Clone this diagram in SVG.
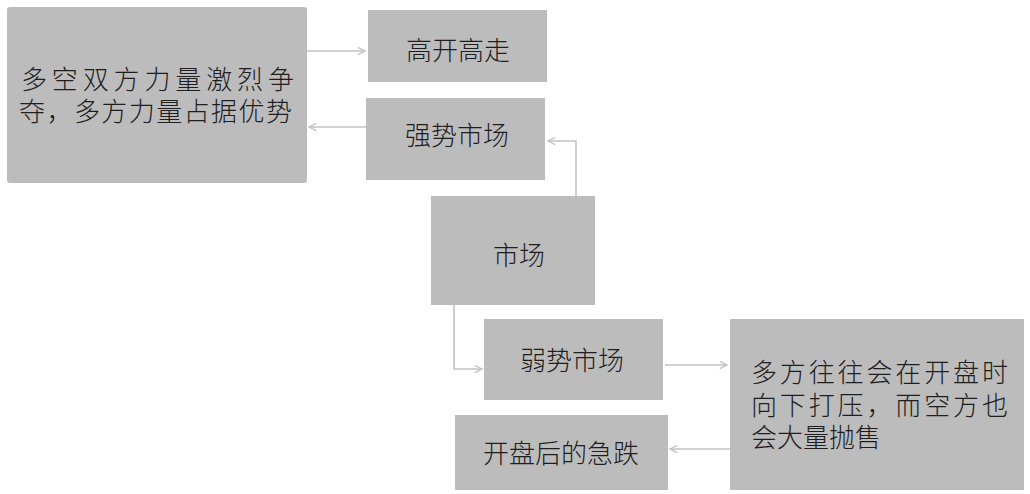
<svg xmlns="http://www.w3.org/2000/svg" width="1030" height="494" viewBox="0 0 1030 494">
<style>
.box{fill:#bdbcbd;}
.t{font-family:"Noto Sans CJK SC","Noto Sans CJK JP",sans-serif;font-size:26px;fill:#1e1e1e;font-weight:300;}
.c{fill:none;stroke:#c2c2c2;stroke-width:1.6;}
</style>
<defs>
<marker id="ah" viewBox="0 0 10 10" refX="9" refY="5" markerWidth="9" markerHeight="9" markerUnits="userSpaceOnUse" orient="auto">
<path d="M1,1 L9,5 L1,9" fill="none" stroke="#c2c2c2" stroke-width="1.4"/>
</marker>
</defs>
<rect width="1030" height="494" fill="#ffffff"/>
<g id="connectors">
<path class="c" d="M307,51 L365,51" marker-end="url(#ah)"/>
<path class="c" d="M366,127 L309,127" marker-end="url(#ah)"/>
<path class="c" d="M576,196 L576,141 L548,141" marker-end="url(#ah)"/>
<path class="c" d="M454,305 L454,369 L482,369" marker-end="url(#ah)"/>
<path class="c" d="M665,365 L727,365" marker-end="url(#ah)"/>
<path class="c" d="M730,449 L670,449" marker-end="url(#ah)"/>
</g>
<g id="node-a">
<rect class="box" x="7" y="7" width="300" height="176" rx="3"/>
<text class="t"><tspan x="21" y="89" textLength="273" lengthAdjust="spacing">多空双方力量激烈争</tspan><tspan x="19" y="121" textLength="273" lengthAdjust="spacing">夺，多方力量占据优势</tspan></text>
</g>
<g id="node-gkgz">
<rect class="box" x="368" y="10" width="179" height="72"/>
<text class="t" x="458" y="60" text-anchor="middle">高开高走</text>
</g>
<g id="node-qssc">
<rect class="box" x="366" y="98" width="179" height="82"/>
<text class="t" x="457" y="145" text-anchor="middle">强势市场</text>
</g>
<g id="node-sc">
<rect class="box" x="431" y="196" width="164" height="109"/>
<text class="t" x="519" y="265" text-anchor="middle">市场</text>
</g>
<g id="node-rssc">
<rect class="box" x="484" y="319" width="179" height="81"/>
<text class="t" x="572" y="370" text-anchor="middle">弱势市场</text>
</g>
<g id="node-right">
<rect class="box" x="730" y="319" width="294" height="171"/>
<text class="t"><tspan x="751" y="382" textLength="257" lengthAdjust="spacing">多方往往会在开盘时</tspan><tspan x="751" y="415" textLength="257" lengthAdjust="spacing">向下打压，而空方也</tspan><tspan x="751" y="447">会大量抛售</tspan></text>
</g>
<g id="node-kphdjd">
<rect class="box" x="455" y="415" width="213" height="75"/>
<text class="t" x="561" y="463" text-anchor="middle">开盘后的急跌</text>
</g>
</svg>
